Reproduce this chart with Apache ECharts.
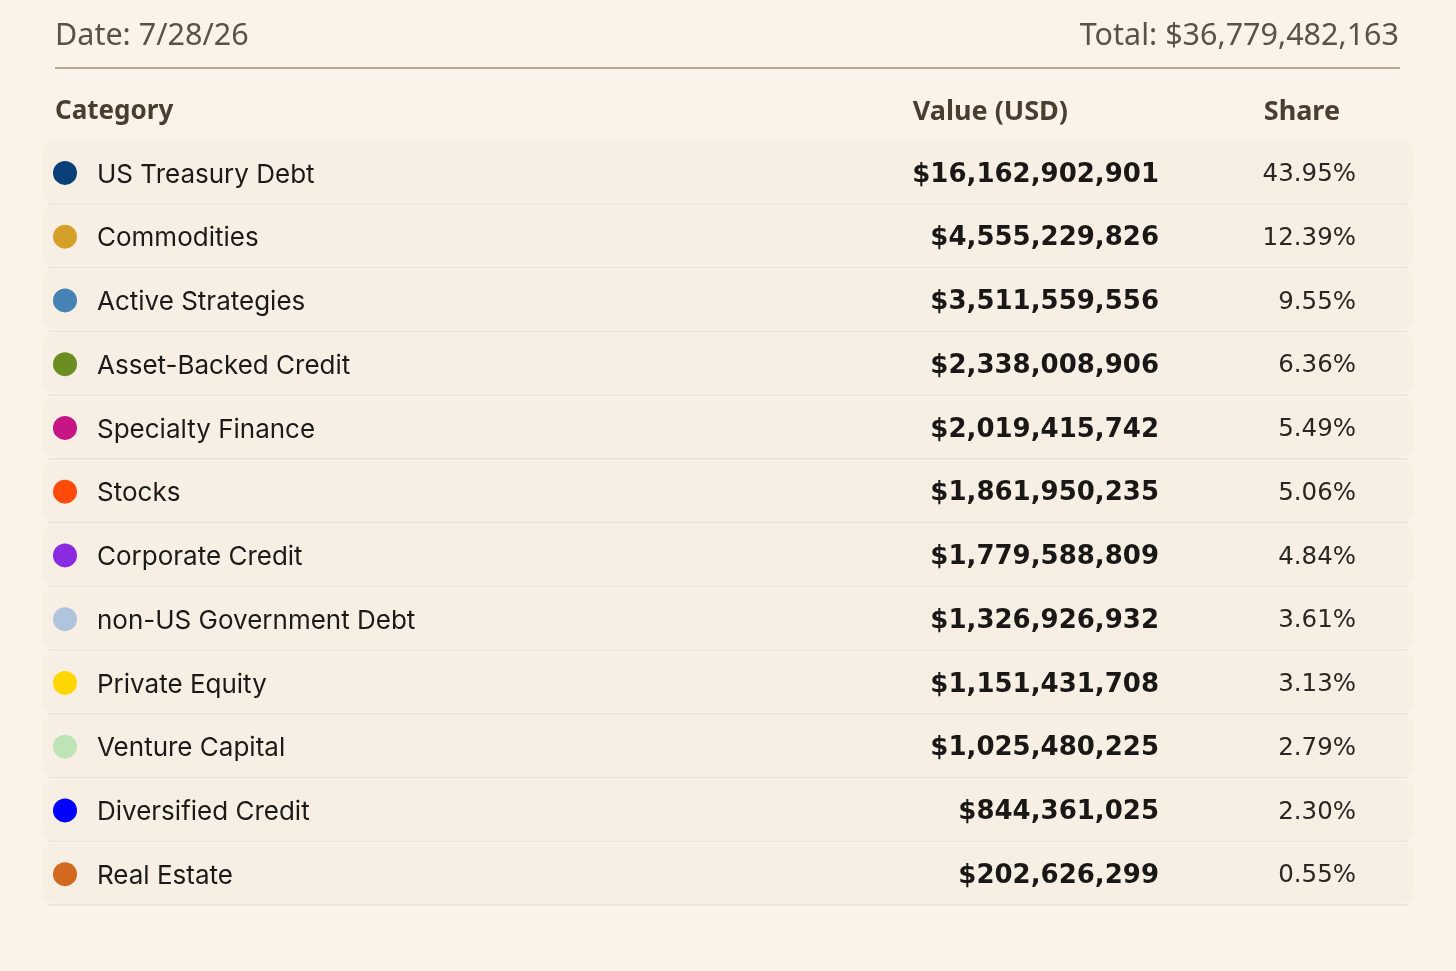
<!DOCTYPE html>
<html>
<head>
<meta charset="utf-8">
<title>Holdings by category</title>
<script src="https://cdn.jsdelivr.net/npm/echarts@6/dist/echarts.min.js"></script>
<style>
  html, body { margin: 0; padding: 0; background: #fbf3e9; }
  #container { width: 1456px; height: 971px; }
</style>
</head>
<body>
<div id="container"></div>
<script>
var myChart = echarts.init(document.getElementById('container'));

var reportDate = '7/28/26';
var totalValue = 36779482163;

var categories = [
  'US Treasury Debt', 'Commodities', 'Active Strategies', 'Asset-Backed Credit',
  'Specialty Finance', 'Stocks', 'Corporate Credit', 'non-US Government Debt',
  'Private Equity', 'Venture Capital', 'Diversified Credit', 'Real Estate'
];
var values = [
  16162902901, 4555229826, 3511559556, 2338008906, 2019415742, 1861950235,
  1779588809, 1326926932, 1151431708, 1025480225, 844361025, 202626299
];
var shares = [43.95, 12.39, 9.55, 6.36, 5.49, 5.06, 4.84, 3.61, 3.13, 2.79, 2.30, 0.55];
var dotColors = [
  '#0b3f7a', '#d4a02a', '#4682b4', '#6b8e23', '#c71585', '#ff4a0a',
  '#8a2be2', '#b0c4de', '#ffd700', '#bde3b6', '#0000ff', '#d2691e'
];

function money(v) {
  return '$' + v.toLocaleString('en-US');
}

// column anchors in x-axis units (axis spans the page width)
var COL = { boxL: 43, boxR: 1413, dot: 65, name: 97, value: 1159, share: 1356 };

var option = {
  backgroundColor: '#fbf3e9',
  title: [
    {
      text: 'Date: ' + reportDate,
      left: 55, top: 21, padding: 0,
      textStyle: { color: '#5b5148', fontSize: 30.5, fontWeight: 'normal', fontFamily: 'Noto Sans' }
    },
    {
      text: 'Total: ' + money(totalValue),
      right: 57, top: 21, padding: 0,
      textStyle: { color: '#5b5148', fontSize: 30.5, fontWeight: 'normal', fontFamily: 'Noto Sans' }
    }
  ],
  graphic: [
    { type: 'line', shape: { x1: 55, y1: 68, x2: 1400, y2: 68 }, style: { stroke: '#b8a991', lineWidth: 2 } },
    { type: 'text', x: 55, y: 112, style: { text: 'Category', fill: '#4b3e31', font: 'bold 26px "Noto Sans"', verticalAlign: 'middle' } },
    { type: 'text', x: 1068, y: 112, style: { text: 'Value (USD)', fill: '#4b3e31', font: 'bold 27px "Noto Sans"', align: 'right', verticalAlign: 'middle' } },
    { type: 'text', x: 1340, y: 112, style: { text: 'Share', fill: '#4b3e31', font: 'bold 27px "Noto Sans"', align: 'right', verticalAlign: 'middle' } }
  ],
  grid: { left: 0, right: 0, top: 141, bottom: 65 },
  xAxis: { type: 'value', min: 0, max: 1456, show: false },
  yAxis: { type: 'category', data: categories, inverse: true, show: false },
  series: [
    {
      type: 'custom',
      silent: true,
      data: categories.map(function (c, i) { return [0, i]; }),
      renderItem: function (params, api) {
        var i = api.value(1);
        var center = api.coord([0, i]);
        var band = api.size([0, 1])[1];
        var y = center[1];
        var ty = y + 2;
        var left = api.coord([COL.boxL, i])[0];
        var right = api.coord([COL.boxR, i])[0];
        return {
          type: 'group',
          children: [
            {
              type: 'rect',
              shape: { x: left, y: y - band / 2 + 2, width: right - left, height: band - 6, r: 10 },
              style: { fill: '#f8efe4', shadowBlur: 3, shadowColor: 'rgba(120,90,50,0.06)' }
            },
            {
              type: 'line',
              shape: { x1: left + 5, y1: y + band / 2 - 1, x2: right - 5, y2: y + band / 2 - 1 },
              style: { stroke: '#ede2d3', lineWidth: 1.5 }
            },
            {
              type: 'circle',
              shape: { cx: api.coord([COL.dot, i])[0], cy: y, r: 12 },
              style: { fill: dotColors[i] }
            },
            {
              type: 'text',
              x: api.coord([COL.name, i])[0], y: ty,
              style: { text: categories[i], fill: '#1c1a18', font: '26px Inter', verticalAlign: 'middle' }
            },
            {
              type: 'text',
              x: api.coord([COL.value, i])[0], y: ty,
              style: { text: money(values[i]), fill: '#1a1816', font: 'bold 26px "DejaVu Sans"', align: 'right', verticalAlign: 'middle' }
            },
            {
              type: 'text',
              x: api.coord([COL.share, i])[0], y: ty,
              style: { text: shares[i].toFixed(2) + '%', fill: '#2a2622', font: '24.5px "DejaVu Sans"', align: 'right', verticalAlign: 'middle' }
            }
          ]
        };
      }
    }
  ]
};

myChart.setOption(option);
</script>
</body>
</html>
